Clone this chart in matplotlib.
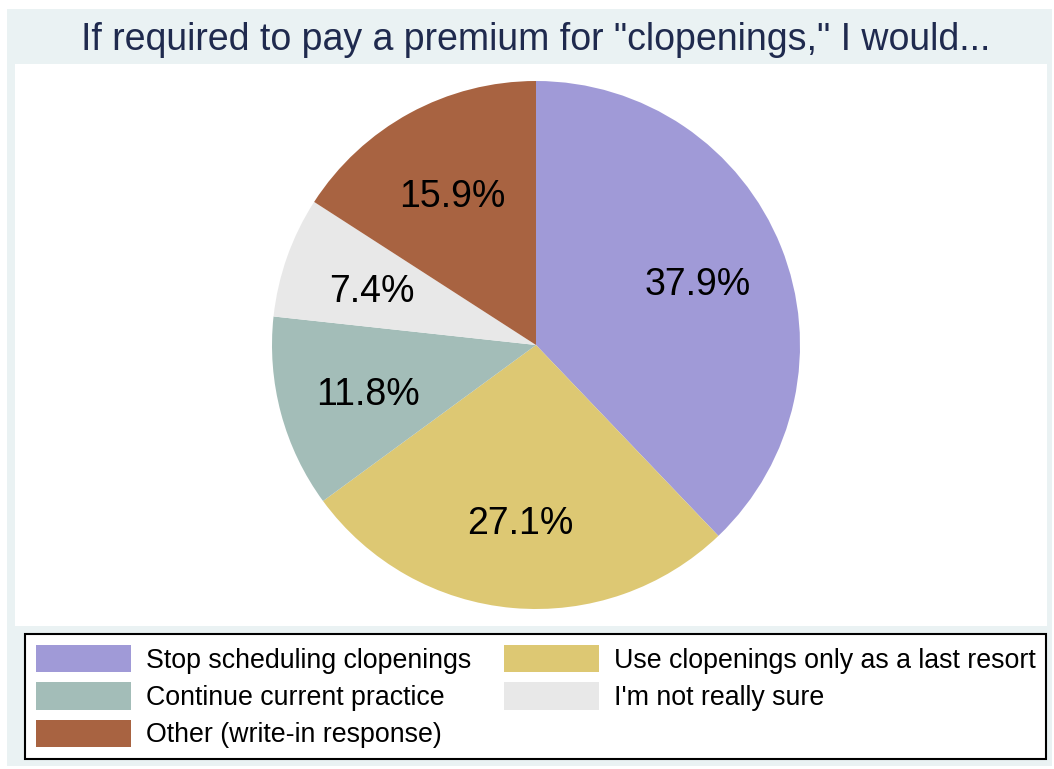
import matplotlib

matplotlib.use("Agg")
import matplotlib.pyplot as plt
from matplotlib.patches import Rectangle
from matplotlib.transforms import offset_copy

plt.rcParams["font.family"] = ["Liberation Sans", "DejaVu Sans"]

TITLE = 'If required to pay a premium for "clopenings," I would...'

# slices go clockwise from 12 o'clock
responses = [
    "Stop scheduling clopenings",
    "Use clopenings only as a last resort",
    "Continue current practice",
    "I'm not really sure",
    "Other (write-in response)",
]
shares = [37.9, 27.1, 11.8, 7.4, 15.9]
colors = ["#A09AD7", "#DDC873", "#A3BDB8", "#E8E8E8", "#A86341"]

# legend is filled column by column
legend_order = [0, 2, 4, 1, 3]

W, H = 1054, 769


def fx(px):
    return px / W


def fy(py):
    # pixel rows counted from the top
    return 1 - py / H


def main():
    fig = plt.figure(figsize=(W / 100, H / 100), dpi=100)
    fig.patch.set_facecolor("white")

    # outer graph region and inner plot region
    fig.patches.append(Rectangle((fx(7), fy(766)), fx(1052 - 7), (766 - 9) / H,
                                 transform=fig.transFigure, facecolor="#EAF2F3",
                                 edgecolor="none", zorder=0))
    fig.patches.append(Rectangle((fx(15), fy(626)), fx(1047 - 15), (626 - 64) / H,
                                 transform=fig.transFigure, facecolor="white",
                                 edgecolor="none", zorder=0))

    fig.text(fx(536), fy(40), TITLE, ha="center", va="center",
             fontsize=27, color="#1F2A4E")

    cx, cy, r = 536, 345, 264
    ax = fig.add_axes([fx(cx - r), fy(cy + r), fx(2 * r), 2 * r / H])
    ax.set_zorder(2)
    total = sum(shares)
    wedges, _, autotexts = ax.pie(
        shares,
        colors=colors,
        startangle=90,
        counterclock=False,
        autopct=lambda p: f"{p * total / 100:.1f}%",
        pctdistance=0.66,
        wedgeprops={"linewidth": 0},
        textprops={"fontsize": 27, "color": "black"},
    )
    # nudge the percentage labels down a little
    for t in autotexts:
        t.set_transform(offset_copy(t.get_transform(), fig=fig, y=-5, units="dots"))
    ax.set_xlim(-1, 1)
    ax.set_ylim(-1, 1)
    ax.set_aspect("equal")
    ax.axis("off")

    leg = fig.legend(
        [wedges[i] for i in legend_order],
        [responses[i] for i in legend_order],
        loc="upper left",
        bbox_to_anchor=(fx(25), fy(634)),
        ncol=2,
        fontsize=19.3,
        frameon=True,
        fancybox=False,
        framealpha=1,
        edgecolor="black",
        facecolor="white",
        handlelength=3.55,
        handleheight=1.2,
        handletextpad=0.55,
        columnspacing=1.24,
        labelspacing=0.325,
        borderpad=0.4,
        borderaxespad=0,
    )
    leg.get_frame().set_linewidth(1.5)
    leg.set_zorder(3)

    fig.savefig("out.png", dpi=100, facecolor=fig.get_facecolor())


if __name__ == "__main__":
    main()
